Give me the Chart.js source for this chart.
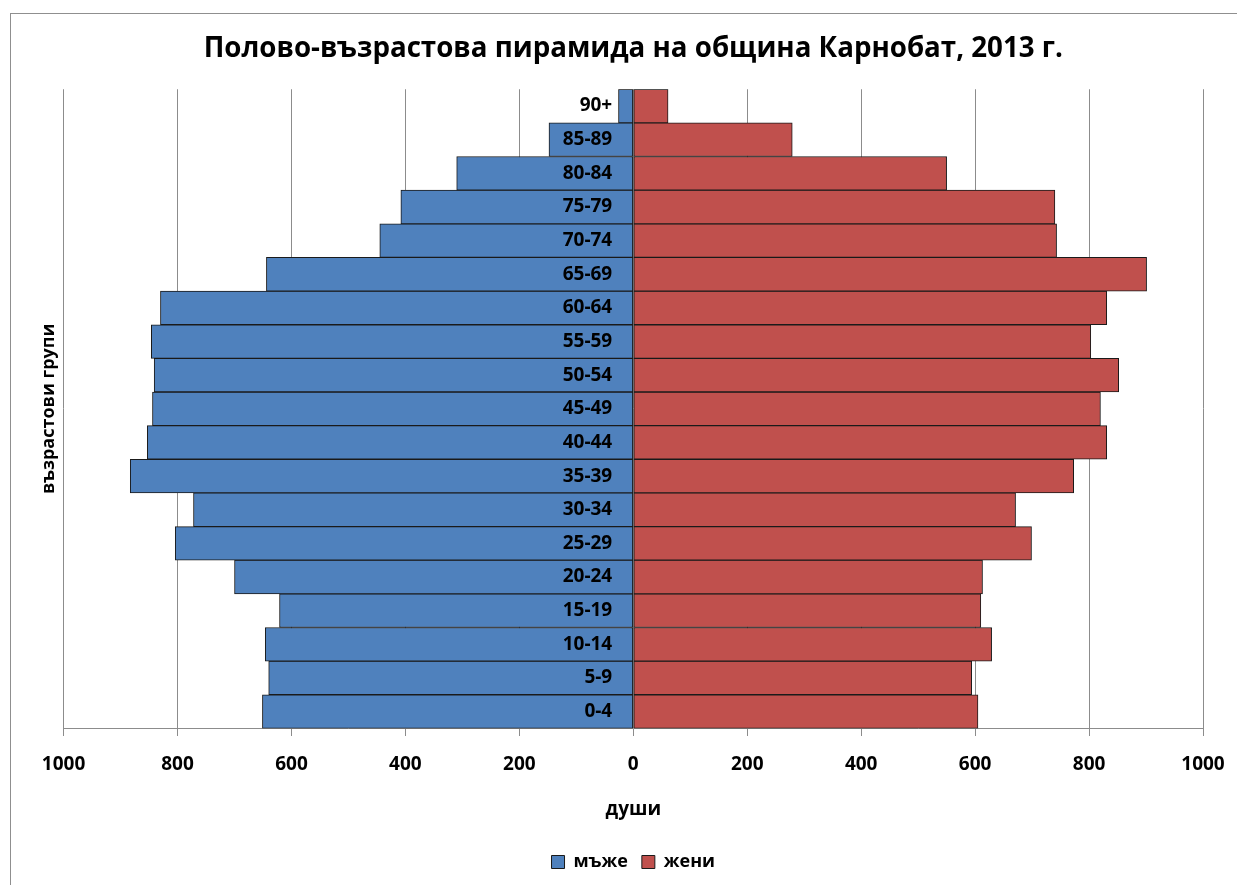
<!DOCTYPE html>
<html>
<head>
<meta charset="utf-8">
<title>Полово-възрастова пирамида</title>
<script src="https://cdn.jsdelivr.net/npm/chart.js@4.4.1/dist/chart.umd.min.js"></script>
<style>
    html, body { margin: 0; padding: 0; background: #fff; overflow: hidden; }
    #wrap { position: relative; width: 1237px; height: 885px; }
    #pyramid { position: absolute; left: 0; top: 0; }
    /* рамката на диаграмата (като в Excel) */
    #frame { position: absolute; left: 10px; top: 13px; width: 1240px; height: 900px;
             border: 1px solid #8f8f8f; pointer-events: none; }
</style>
</head>
<body>
<div id="wrap">
    <canvas id="pyramid" width="1237" height="885"></canvas>
    <div id="frame"></div>
</div>
<script>
// възрастови групи (отдолу нагоре)
const AGE_GROUPS = ['0-4', '5-9', '10-14', '15-19', '20-24', '25-29', '30-34', '35-39', '40-44',
    '45-49', '50-54', '55-59', '60-64', '65-69', '70-74', '75-79', '80-84', '85-89', '90+'];

// брой души по групи
const MALES   = [651, 640, 646, 621, 700, 804, 772, 883, 853, 844, 841, 846, 830, 644, 445, 408, 310, 148, 26];
const FEMALES = [605, 594, 629, 610, 613, 699, 671, 773, 831, 820, 852, 803, 831, 901, 743, 740, 550, 279, 61];

const X_MIN = -1000;
const X_MAX = 1000;
const X_STEP = 200;

const FONT = "'Open Sans', sans-serif";
const GRID_COLOR = '#8c8c8c';

const ctx = document.getElementById('pyramid').getContext('2d');

new Chart(ctx, {
    type: 'bar',
    data: {
        labels: AGE_GROUPS,
        datasets: [
            {
                label: 'мъже',
                data: MALES.map(v => -v), // мъжете вляво
                backgroundColor: '#4f81bd',
                borderColor: '#1a1a1a',
                borderWidth: 1,
                borderSkipped: false,
                xAxisID: 'x',
                yAxisID: 'y'
            },
            {
                label: 'жени',
                data: FEMALES,
                backgroundColor: '#c0504d',
                borderColor: '#1a1a1a',
                borderWidth: 1,
                borderSkipped: false,
                xAxisID: 'x',
                yAxisID: 'y'
            }
        ]
    },
    options: {
        indexAxis: 'y',
        responsive: false,
        animation: false,
        categoryPercentage: 1.0,
        barPercentage: 1.0,
        layout: {
            padding: { left: 34, right: 34, top: 0, bottom: 4 }
        },
        plugins: {
            title: {
                display: true,
                fullSize: false,
                text: 'Полово-възрастова пирамида на община Карнобат, 2013 г.',
                color: '#000',
                font: { family: FONT, size: 27.7, weight: 'bold' },
                padding: { top: 32, bottom: 24 }
            },
            legend: {
                position: 'bottom',
                fullSize: false,
                labels: {
                    color: '#000',
                    font: { family: FONT, size: 18, weight: 'bold' },
                    boxWidth: 13,
                    boxHeight: 13,
                    padding: 14
                }
            },
            tooltip: { enabled: false }
        },
        scales: {
            x: {
                type: 'linear',
                stacked: true,
                min: X_MIN,
                max: X_MAX,
                grid: {
                    color: GRID_COLOR,
                    lineWidth: 1,
                    drawTicks: true,
                    tickLength: 22,
                    tickBorderDash: [7, 100], // видими са само 7px от чертичката
                    tickColor: GRID_COLOR
                },
                border: { display: true, color: GRID_COLOR, width: 1 },
                ticks: {
                    stepSize: X_STEP,
                    color: '#000',
                    padding: 3,
                    font: { family: FONT, size: 19, weight: 'bold' },
                    callback: function(value) { return Math.abs(value); }
                },
                title: {
                    display: true,
                    text: 'души',
                    color: '#000',
                    font: { family: FONT, size: 19, weight: 'bold' },
                    padding: { top: 19, bottom: 18 }
                }
            },
            // етикетите на групите стоят до нулата, над стълбовете
            y: {
                type: 'category',
                stacked: true,
                reverse: true,
                position: { x: -37 },
                grid: { display: false },
                border: { display: false },
                ticks: {
                    z: 1,
                    color: '#000',
                    padding: 0,
                    autoSkip: false,
                    font: { family: FONT, size: 19, weight: 'bold' }
                }
            },
            // само за заглавието на вертикалната ос
            yTitle: {
                type: 'category',
                position: 'left',
                reverse: true,
                grid: { display: false, drawTicks: false },
                border: { display: false },
                ticks: { display: false },
                title: {
                    display: true,
                    text: 'възрастови групи',
                    color: '#000',
                    font: { family: FONT, size: 18, weight: 'bold' },
                    padding: { top: 4, bottom: 4 }
                }
            }
        }
    }
});
</script>
</body>
</html>
